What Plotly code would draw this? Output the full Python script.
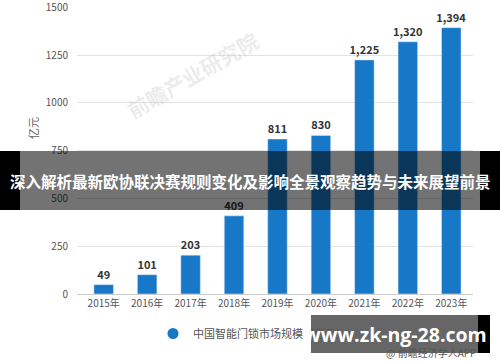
import plotly.graph_objects as go

years = ["2015年", "2016年", "2017年", "2018年", "2019年", "2020年", "2021年", "2022年", "2023年"]
values = [49, 101, 203, 409, 811, 830, 1225, 1320, 1394]
yticks = [0, 250, 500, 750, 1000, 1250, 1500]
series_name = "中国智能门锁市场规模（亿元）"
banner_text = "深入解析最新欧协联决赛规则变化及影响全景观察趋势与未来展望前景"
url_text = "www.zk-ng-28.com"
source_text = "@ 前瞻经济学人APP"
watermark = "前瞻产业研究院"

W, H = 500, 362
def px(x):
    return x / W
def py(y):
    return (H - y) / H

BLUE = "#1878C8"
FONT = "Noto Sans CJK SC"

fig = go.Figure()
fig.add_trace(go.Bar(
    x=years, y=values, marker_color=BLUE, showlegend=False,
    texttemplate="%{y:,}", textposition="outside", cliponaxis=False,
    constraintext="none",
    textfont=dict(family=FONT, size=11, color="#333333", weight="bold"),
))
fig.add_trace(go.Scatter(
    x=[years[0]], y=[None], mode="markers", name=series_name,
    marker=dict(color=BLUE, size=11, symbol="circle"), showlegend=True,
))

fig.update_layout(
    width=W, height=H, margin=dict(l=0, r=0, t=0, b=0, autoexpand=False),
    paper_bgcolor="white", plot_bgcolor="white",
    bargap=0.55,
    font=dict(family=FONT, size=11, color="#555555"),
    xaxis=dict(domain=[px(77), px(473)], showline=True, linecolor="#cccccc",
               ticks="", tickfont=dict(size=10, color="#555555"), showgrid=False,
               automargin=False),
    yaxis=dict(domain=[py(294), py(7)], range=[0, 1502], tickvals=yticks,
               showgrid=True, gridcolor="#e3e3e3", zeroline=False,
               ticks="", ticklabelstandoff=8, ticklabeloverflow="allow",
               tickfont=dict(size=10, color="#555555"),
               automargin=False),
    legend=dict(orientation="h", x=px(153), y=py(319), xanchor="left", yanchor="top",
                font=dict(size=11, color="#555555"), bgcolor="rgba(0,0,0,0)"),
    showlegend=True,
)

def note(text, x, y, **kw):
    fig.add_annotation(text=text, x=px(x), y=py(y), xref="paper", yref="paper",
                       xanchor="center", yanchor="middle", showarrow=False, **kw)

# watermark
note(watermark, 192, 75, textangle=-30,
     font=dict(size=21, color="rgba(190,190,190,0.3)", family=FONT, weight="bold"))

# y axis unit
note("亿元", 33, 128, textangle=-90, font=dict(size=11, color="#666666"))

# banner
fig.add_shape(type="rect", xref="paper", yref="paper", x0=px(20), x1=px(480), y0=py(210), y1=py(151),
              fillcolor="rgba(0,0,0,0.55)", line_width=0, layer="above")
fig.add_shape(type="rect", xref="paper", yref="paper", x0=0, x1=px(20), y0=py(210), y1=py(151),
              fillcolor="black", line_width=0, layer="above")
fig.add_shape(type="rect", xref="paper", yref="paper", x0=px(480), x1=1, y0=py(210), y1=py(151),
              fillcolor="black", line_width=0, layer="above")
note(banner_text, 250, 181, font=dict(size=15.5, color="white", family=FONT, weight="bold"))

# bottom url box
fig.add_shape(type="rect", xref="paper", yref="paper", x0=px(311), x1=px(478), y0=py(353), y1=py(315),
              fillcolor="rgba(0,0,0,0.6)", line_width=0, layer="above")
fig.add_shape(type="rect", xref="paper", yref="paper", x0=px(478), x1=px(490), y0=py(353), y1=py(315),
              fillcolor="black", line_width=0, layer="above")
note(url_text, 395, 334, font=dict(size=19.5, color="white", family="Open Sans", weight="bold"))
note(source_text, 431, 352, font=dict(size=10, color="#555555", family=FONT))

fig.write_html("out.html")
